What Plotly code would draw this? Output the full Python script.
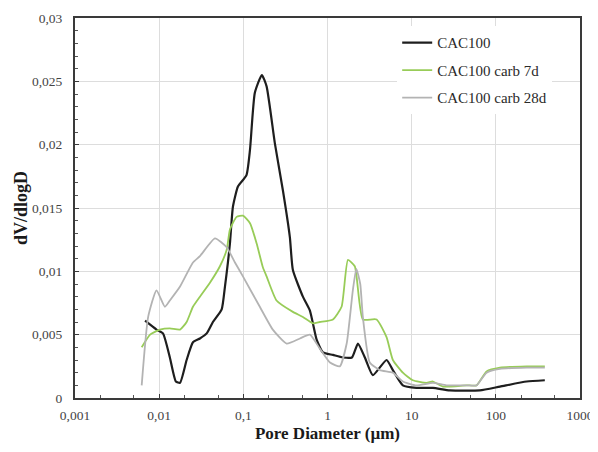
import plotly.graph_objects as go

# CAC100
x_cac = [0.0068, 0.0093, 0.0111, 0.0134, 0.0158, 0.0177, 0.0212, 0.0252, 0.0305, 0.0367,
         0.0435, 0.0553, 0.0605, 0.0656, 0.0693, 0.0752, 0.0863, 0.109, 0.120, 0.137,
         0.166, 0.189, 0.237, 0.295, 0.357, 0.388, 0.51, 0.618, 0.743, 0.881,
         1.16, 1.52, 1.95, 2.30, 2.78, 3.46, 5.03, 5.98, 7.86, 11.4,
         17.9, 28.4, 64.6, 112, 232, 382]
y_cac = [0.0061, 0.0054, 0.0051, 0.0032, 0.0013, 0.0012, 0.0030, 0.0044, 0.0047, 0.0051,
         0.0060, 0.0070, 0.0088, 0.0107, 0.0122, 0.0151, 0.0167, 0.0176, 0.0196, 0.0241,
         0.0255, 0.0246, 0.0201, 0.0164, 0.0127, 0.0101, 0.0080, 0.0069, 0.0046, 0.0036,
         0.0034, 0.0032, 0.0032, 0.0043, 0.0032, 0.0018, 0.0030, 0.0022, 0.0010, 0.0008,
         0.0008, 0.0006, 0.0006, 0.0009, 0.0013, 0.0014]

# CAC100 carb 7d
x_7d = [0.0062, 0.0078, 0.0102, 0.0134, 0.0177, 0.0212, 0.0252, 0.0305, 0.0401, 0.0527,
        0.0634, 0.0693, 0.0832, 0.0989, 0.120, 0.144, 0.171, 0.189, 0.248, 0.388,
        0.51, 0.67, 0.81, 1.16, 1.47, 1.75, 2.11, 2.63, 3.83, 5.03,
        5.98, 7.86, 10.3, 15.0, 17.9, 23.5, 44.9, 59.0, 77.6, 112, 232, 382]
y_7d = [0.0040, 0.0050, 0.0054, 0.0055, 0.0054, 0.0060, 0.0072, 0.0080, 0.0091, 0.0104,
        0.0117, 0.0133, 0.0143, 0.0144, 0.0138, 0.0122, 0.0103, 0.0096, 0.0077, 0.0068,
        0.0064, 0.0059, 0.0060, 0.0062, 0.0072, 0.0109, 0.0104, 0.0062, 0.0062, 0.0048,
        0.0030, 0.0020, 0.0014, 0.0012, 0.0013, 0.0009, 0.0010, 0.0010, 0.0021, 0.0024, 0.0025, 0.0025]

# CAC100 carb 28d
x_28d = [0.0062, 0.0074, 0.0093, 0.0117, 0.0134, 0.0177, 0.0252, 0.0305, 0.046, 0.0634,
         0.0795, 0.0989, 0.157, 0.224, 0.327, 0.47, 0.618, 0.81, 1.07, 1.40,
         1.69, 2.0, 2.2, 2.45, 2.63, 3.18, 4.19, 5.98, 7.86, 11.4,
         17.9, 25.9, 44.9, 59.0, 77.6, 112, 232, 382]
y_28d = [0.0010, 0.0064, 0.0085, 0.0072, 0.0077, 0.0088, 0.0107, 0.0112, 0.0126, 0.0119,
         0.0107, 0.0096, 0.0072, 0.0054, 0.0043, 0.0047, 0.0050, 0.0039, 0.0028, 0.0025,
         0.0043, 0.0085, 0.0102, 0.0090, 0.0064, 0.0028, 0.0022, 0.0020, 0.0013, 0.0010,
         0.0012, 0.0010, 0.0010, 0.0010, 0.0020, 0.0023, 0.0024, 0.0024]

x_tickvals = [0.001, 0.01, 0.1, 1, 10, 100, 1000]
x_ticktext = ["0,001", "0,01", "0,1", "1", "10", "100", "1000"]
y_tickvals = [0, 0.005, 0.01, 0.015, 0.02, 0.025, 0.03]
y_ticktext = ["0", "0,005", "0,01", "0,015", "0,02", "0,025", "0,03"]

SERIF = "Liberation Serif"

fig = go.Figure()
fig.add_trace(go.Scatter(x=x_cac, y=y_cac, mode="lines", name="CAC100", legendgroup="a",
                         line=dict(color="#1e1e1e", width=2.2, shape="spline", smoothing=0.5)))
fig.add_trace(go.Scatter(x=x_7d, y=y_7d, mode="lines", name="CAC100 carb 7d", legendgroup="b",
                         line=dict(color="#98cc58", width=1.8, shape="spline", smoothing=0.5)))
fig.add_trace(go.Scatter(x=x_28d, y=y_28d, mode="lines", name="CAC100 carb 28d", legendgroup="c",
                         line=dict(color="#b3b3b3", width=1.8, shape="spline", smoothing=0.5)))

# The page body has an 8px margin, so the figure is 8px smaller and the margins compensate
fig.update_layout(
    width=590, height=444,
    margin=dict(l=67, r=18, t=10, b=54, autoexpand=False),
    paper_bgcolor="white", plot_bgcolor="white",
    font=dict(family=SERIF, size=13, color="#333333"),
    legend=dict(x=0.638, y=0.978, xanchor="left", yanchor="top",
                bgcolor="white", font=dict(family=SERIF, size=15, color="#2a2a2a"),
                tracegroupgap=5, itemwidth=30),
    xaxis=dict(type="log", range=[-3, 3], tickvals=x_tickvals, ticktext=x_ticktext,
               automargin=False,
               showgrid=True, gridcolor="#dddddd", gridwidth=1,
               showline=True, linecolor="#3a3a3a", linewidth=2, mirror=True,
               ticks="inside", ticklen=4, tickcolor="#3a3a3a",
               minor=dict(ticks="inside", ticklen=3, tickcolor="#555555", showgrid=False),
               zeroline=False, ticklabelstandoff=4,
               title=dict(text="<b>Pore Diameter (µm)</b>", font=dict(family=SERIF, size=17, color="#1a1a1a"), standoff=5),
               tickfont=dict(family=SERIF, size=13.5, color="#444444")),
    yaxis=dict(range=[0, 0.03], tickvals=y_tickvals, ticktext=y_ticktext,
               automargin=False,
               showgrid=True, gridcolor="#dddddd", gridwidth=1,
               showline=True, linecolor="#3a3a3a", linewidth=2, mirror=True,
               ticks="inside", ticklen=4, tickcolor="#3a3a3a",
               minor=dict(ticks="inside", ticklen=3, dtick=0.001, tickcolor="#555555", showgrid=False),
               zeroline=False, ticklabelstandoff=8,
               title=dict(text="<b>dV/dlogD</b>", font=dict(family=SERIF, size=18, color="#1a1a1a"), standoff=0),
               tickfont=dict(family=SERIF, size=13.5, color="#444444")),
)

fig.write_html("out.html")
